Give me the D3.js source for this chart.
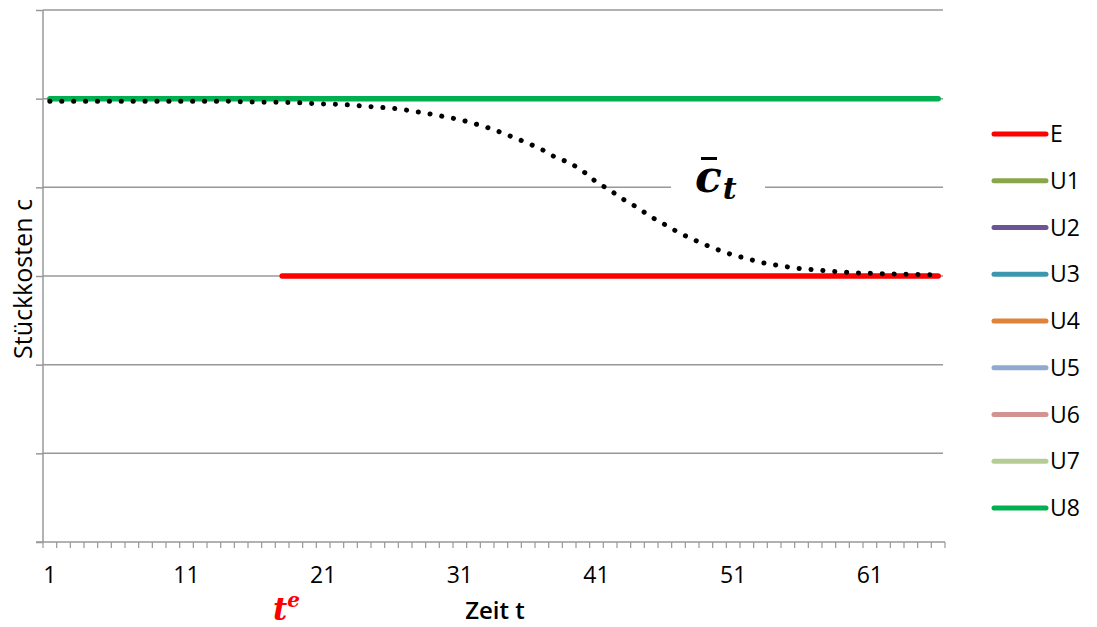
<!DOCTYPE html>
<html>
<head>
<meta charset="utf-8">
<script src="https://cdn.jsdelivr.net/npm/d3@7"></script>
<style>
  body { margin: 0; background: #fff; }
  svg text { font-family: "Open Sans", "DejaVu Sans", sans-serif; }
  svg text.math { font-family: "DejaVu Serif", "Liberation Serif", serif; font-weight: bold; }
</style>
</head>
<body>
<svg id="chart" width="1097" height="627"></svg>
<script>
// categories 1..66 (Zeit t)
var periods = d3.range(1, 67);
var tickLabels = [1, 11, 21, 31, 41, 51, 61];
var yTicks = [0, 1, 2, 3, 4, 5, 6];

// series E starts at t = 18
var startE = 18;
var valE = 3;
var valU8 = 5;

// average unit cost c-bar_t (t = 1..66)
var cbar = [4.97, 4.97, 4.97, 4.97, 4.97, 4.97, 4.97, 4.97, 4.97, 4.97,
            4.97, 4.97, 4.97, 4.97, 4.965, 4.962, 4.96, 4.958, 4.955, 4.947,
            4.940, 4.936, 4.929, 4.916, 4.904, 4.892, 4.873, 4.849, 4.823, 4.793,
            4.763, 4.721, 4.675, 4.620, 4.559, 4.496, 4.426, 4.339, 4.277, 4.182,
            4.060, 3.966, 3.861, 3.771, 3.667, 3.580, 3.492, 3.418, 3.350, 3.290,
            3.237, 3.197, 3.155, 3.127, 3.102, 3.082, 3.070, 3.056, 3.045, 3.034,
            3.031, 3.026, 3.023, 3.019, 3.016, 3.011];

var legendNames = ["E", "U1", "U2", "U3", "U4", "U5", "U6", "U7", "U8"];
var legendColors = ["#ff0000", "#8aa64b", "#6b5493", "#3c97ae", "#de833b",
                    "#8fa9cf", "#d39392", "#b5cd94", "#00b050"];

var svg = d3.select("#chart");
var plotL = 43, plotR = 945, plotT = 10, plotB = 542;

var x = d3.scaleBand().domain(periods).range([plotL, plotR]);
var y = d3.scaleLinear().domain([0, 6]).range([plotB, plotT]);
var cx = function(t) { return x(t) + x.bandwidth() / 2; };

// gridlines
svg.append("g").selectAll("line")
  .data(yTicks.filter(function(d) { return d > 0; }))
  .enter().append("line")
  .attr("x1", plotL).attr("x2", plotR - 2)
  .attr("y1", function(d) { return y(d); })
  .attr("y2", function(d) { return y(d); })
  .attr("stroke", "#989898").attr("stroke-width", 1.5);

// y axis (no labels)
var yAxis = d3.axisLeft(y).tickValues(yTicks).tickSize(7).tickFormat("");
var gy = svg.append("g").attr("transform", "translate(" + plotL + ",0)").call(yAxis);
gy.select(".domain").attr("d", "M0," + plotB + "V" + plotT);
gy.selectAll("path, line").attr("stroke", "#989898").attr("stroke-width", 1.5);

// x axis: tick marks between categories
var tickPos = d3.range(0, periods.length + 1).map(function(i) { return plotL + i * x.step(); });
var gx = svg.append("g");
gx.append("line").attr("x1", plotL - 7).attr("x2", plotR)
  .attr("y1", plotB).attr("y2", plotB)
  .attr("stroke", "#989898").attr("stroke-width", 1.5);
gx.selectAll("line.tk").data(tickPos).enter().append("line")
  .attr("class", "tk")
  .attr("x1", function(d) { return d; }).attr("x2", function(d) { return d; })
  .attr("y1", plotB).attr("y2", plotB + 6)
  .attr("stroke", "#989898").attr("stroke-width", 1.2);
gx.selectAll("text").data(tickLabels).enter().append("text")
  .attr("x", function(d) { return cx(d); })
  .attr("y", 583)
  .attr("text-anchor", "middle")
  .attr("font-size", 23)
  .attr("fill", "#000")
  .text(function(d) { return d; });

// axis titles
svg.append("text")
  .attr("transform", "translate(32,279) rotate(-90)")
  .attr("text-anchor", "middle")
  .attr("font-size", 25)
  .text("Stückkosten c");

svg.append("text")
  .attr("x", 495).attr("y", 619)
  .attr("text-anchor", "middle")
  .attr("font-size", 24)
  .attr("font-weight", 600)
  .text("Zeit t");

var line = d3.line().x(function(d) { return cx(d.t); }).y(function(d) { return y(d.v); });

// U8 flat line
svg.append("path")
  .datum(periods.map(function(t) { return { t: t, v: valU8 }; }))
  .attr("d", line)
  .attr("fill", "none").attr("stroke", legendColors[8])
  .attr("stroke-width", 5.5).attr("stroke-linecap", "round");

// E line
svg.append("path")
  .datum(periods.filter(function(t) { return t >= startE; }).map(function(t) { return { t: t, v: valE }; }))
  .attr("d", line)
  .attr("fill", "none").attr("stroke", legendColors[0])
  .attr("stroke-width", 5.5).attr("stroke-linecap", "round");

// dotted c-bar curve
svg.append("path")
  .datum(periods.map(function(t, i) { return { t: t, v: cbar[i] }; }))
  .attr("d", d3.line().x(function(d) { return cx(d.t); }).y(function(d) { return y(d.v); }).curve(d3.curveMonotoneX))
  .attr("fill", "none").attr("stroke", "#000")
  .attr("stroke-width", 5).attr("stroke-linecap", "round")
  .attr("stroke-dasharray", "0.1 11.8");

// c-bar_t label with white background
svg.append("rect").attr("x", 671).attr("y", 165).attr("width", 94).attr("height", 40).attr("fill", "#fff");
var lab = svg.append("text").attr("class", "math")
  .attr("x", 695).attr("y", 192)
  .attr("fill", "#000");
lab.append("tspan").attr("font-size", 44).style("font-style", "italic").text("c");
lab.append("tspan").attr("font-size", 30).style("font-style", "italic").attr("dx", 1).attr("dy", 7).text("t");
svg.append("rect").attr("x", 701).attr("y", 157).attr("width", 16).attr("height", 3).attr("fill", "#000");

// t^e label
var te = svg.append("text").attr("class", "math")
  .attr("x", 273).attr("y", 620)
  .style("font-style", "italic")
  .attr("fill", "#ff0000");
te.append("tspan").attr("font-size", 31).text("t");
te.append("tspan").attr("font-size", 20).attr("dy", -13).text("e");

// legend
var lg = svg.append("g").selectAll("g").data(legendNames).enter().append("g")
  .attr("transform", function(d, i) { return "translate(0," + (134 + i * 46.75) + ")"; });
lg.append("line").attr("x1", 994).attr("x2", 1046).attr("y1", 0).attr("y2", 0)
  .attr("stroke", function(d, i) { return legendColors[i]; })
  .attr("stroke-width", 5).attr("stroke-linecap", "round");
lg.append("text").attr("x", 1050).attr("y", 8)
  .attr("font-size", 23)
  .text(function(d) { return d; });
</script>
</body>
</html>
